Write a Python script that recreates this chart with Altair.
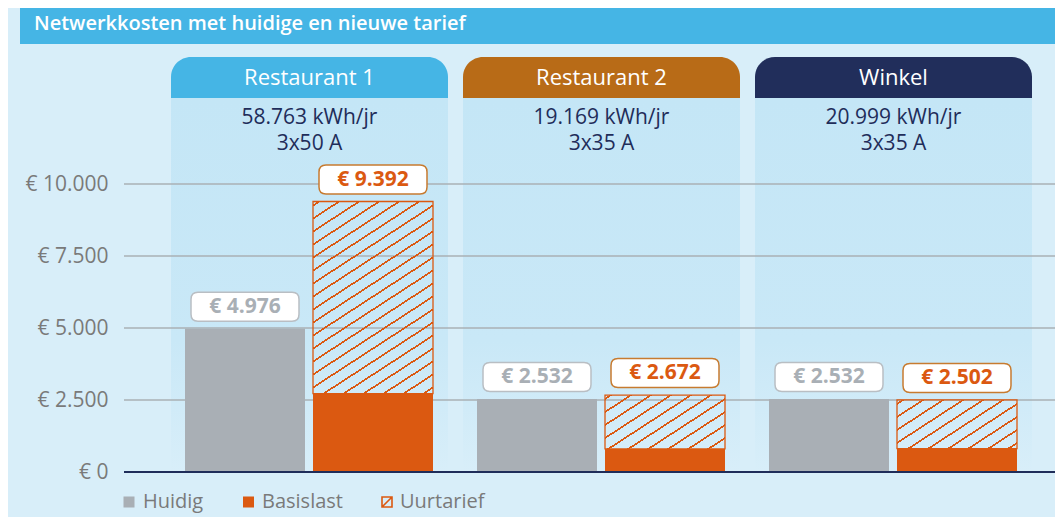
import altair as alt
import pandas as pd

# ---------------- data ----------------
panels = ["Restaurant 1", "Restaurant 2", "Winkel"]
usage = ["58.763 kWh/jr", "19.169 kWh/jr", "20.999 kWh/jr"]
connection = ["3x50 A", "3x35 A", "3x35 A"]
huidig = [4976, 2532, 2532]
basislast = [2720, 800, 810]
nieuw_totaal = [9392, 2672, 2502]
y_ticks = [0, 2500, 5000, 7500, 10000]
legend_labels = ["Huidig", "Basislast", "Uurtarief"]
title_text = ["Netwerkkosten met huidige en nieuwe tarief"]

# ---------------- style / layout ----------------
FONT = "Open Sans"
BG = "#d8eef9"
PANEL_TOP = "#c4e6f6"
TITLE_BLUE = "#45b5e5"
TAB_COLORS = ["#45b5e5", "#b86b17", "#212e5b"]
NAVY = "#1f2d5a"
GRAY = "#a9afb5"
ORANGE = "#db5911"
ORANGE_CLEAR = "rgba(219,89,17,0)"
GRAY_BORDER = "#b9bec3"
ORANGE_BORDER = "#c77b30"
GRID = "#aab0b4"
AXIS_TXT = "#7a7a7a"

W = 931          # plot width
H = 415          # plot height
PX_PER = 0.0288  # pixels per euro
YMAX = H / PX_PER
BAR_W = 120


def euro(v):
    return "€ " + f"{v:,}".replace(",", ".")


def hatch(w, h, m=0.65, spacing=13.0, thick=2.0):
    L = m * w + h
    c = L / (m * m * w * w + h * h)
    stops = [(0.0, ORANGE_CLEAR)]
    half = thick / 2.0 / L
    k = -2
    while True:
        t = (4.0 + k * spacing) / L
        if t - half > 1:
            break
        a, b = max(0.0, t - half), min(1.0, t + half)
        if b > 0 and a < 1:
            stops += [(a, ORANGE_CLEAR), (a, ORANGE), (b, ORANGE), (b, ORANGE_CLEAR)]
        k += 1
    stops.append((1.0, ORANGE_CLEAR))
    return {
        "gradient": "linear",
        "x1": 0, "y1": 0, "x2": c * m * w, "y2": c * h,
        "stops": [{"offset": round(o, 5), "color": col} for o, col in stops],
    }


df_panels = pd.DataFrame({"panel": panels, "usage": usage, "conn": connection})
df_h = pd.DataFrame({"panel": panels, "grp": "Huidig", "value": huidig,
                     "label": [euro(v) for v in huidig]})
df_n = pd.DataFrame({"panel": panels, "grp": "Nieuw", "base": basislast,
                     "total": nieuw_totaal, "label": [euro(v) for v in nieuw_totaal]})
df_ticks = pd.DataFrame({"tick": y_ticks})
df_title = pd.DataFrame({"title": title_text})
df_leg = pd.DataFrame({"label": legend_labels})
df_zero = pd.DataFrame({"z": [0]})

xscale = alt.Scale(domain=panels, paddingInner=15 / 292, paddingOuter=35 / 292,
                   align=47 / 70, round=False)
xoff_scale = alt.Scale(domain=["Huidig", "Nieuw"], paddingInner=8 / 128,
                       paddingOuter=14.5 / 128, align=14 / 29, round=False)
yscale = alt.Scale(domain=[0, YMAX], nice=False, zero=True)
yaxis = alt.Axis(values=y_ticks,
                 labelExpr="'€ ' + replace(format(datum.value, ',.0f'), ',', '.')",
                 grid=False, domain=False, ticks=False, labelPadding=16,
                 labelFontSize=21, labelColor=AXIS_TXT, labelFont=FONT, title=None)

X = alt.X("panel:N", scale=xscale, axis=None)
XO = alt.XOffset("grp:N", scale=xoff_scale)


def Y(field):
    return alt.Y(field, scale=yscale, axis=yaxis, title=None)


layers = []

# title bar
layers.append(alt.Chart(df_title).mark_rect(color=TITLE_BLUE).encode(
    x=alt.value(-104), x2=alt.value(W), y=alt.value(-49), y2=alt.value(-13)))
layers.append(alt.Chart(df_title).mark_text(
    color="white", font=FONT, fontSize=20, fontWeight=600, align="left",
    baseline="middle").encode(x=alt.value(-90), y=alt.value(-33), text="title:N"))

# panel bodies and tabs
body_grad = {"gradient": "linear", "x1": 0, "y1": 0, "x2": 0, "y2": 1,
             "stops": [{"offset": 0, "color": PANEL_TOP},
                       {"offset": 0.65, "color": "#c9e8f7"},
                       {"offset": 1, "color": BG}]}
layers.append(alt.Chart(df_panels).mark_bar(fill=body_grad).encode(
    x=X, y=alt.value(41), y2=alt.value(H)))
layers.append(alt.Chart(df_panels).mark_bar(
    cornerRadiusTopLeft=20, cornerRadiusTopRight=20).encode(
    x=X, y=alt.value(0), y2=alt.value(41),
    color=alt.Color("panel:N", scale=alt.Scale(domain=panels, range=TAB_COLORS),
                    legend=None)))
layers.append(alt.Chart(df_panels).mark_text(
    color="white", font=FONT, fontSize=22, baseline="middle").encode(
    x=X, y=alt.value(21), text="panel:N"))
layers.append(alt.Chart(df_panels).mark_text(
    color=NAVY, font=FONT, fontSize=21, baseline="middle").encode(
    x=X, y=alt.value(61), text="usage:N"))
layers.append(alt.Chart(df_panels).mark_text(
    color=NAVY, font=FONT, fontSize=21, baseline="middle").encode(
    x=X, y=alt.value(87), text="conn:N"))

# gridlines
layers.append(alt.Chart(df_ticks).mark_rule(color=GRID, strokeWidth=1.5).encode(
    y=Y("tick:Q"), x=alt.value(0), x2=alt.value(W)))

# bars
layers.append(alt.Chart(df_h).mark_bar(color=GRAY).encode(
    x=X, xOffset=XO, y=Y("value:Q").stack(None)))
layers.append(alt.Chart(df_n).mark_bar(color=ORANGE).encode(
    x=X, xOffset=XO, y=Y("base:Q").stack(None)))
for p, b, t in zip(panels, basislast, nieuw_totaal):
    grad = hatch(BAR_W, (t - b) * PX_PER)
    layers.append(alt.Chart(df_n).transform_filter(alt.datum.panel == p).mark_bar(
        fill=grad, stroke=ORANGE, strokeWidth=1.3).encode(
        x=X, xOffset=XO, y=Y("total:Q"), y2="base:Q"))

# baseline
layers.append(alt.Chart(df_zero).mark_rule(color=NAVY, strokeWidth=2).encode(
    y=Y("z:Q"), x=alt.value(0), x2=alt.value(W)))

# value labels (rounded boxes)
hw = 54.0
hh = 14.5 / hw
rr = 7.0 / hw
BOX = (f"M{-1+rr},{-hh}L{1-rr},{-hh}Q1,{-hh} 1,{-hh+rr}L1,{hh-rr}Q1,{hh} {1-rr},{hh}"
       f"L{-1+rr},{hh}Q-1,{hh} -1,{hh-rr}L-1,{-hh+rr}Q-1,{-hh} {-1+rr},{-hh}Z")
BOX_SIZE = (2 * hw) ** 2
for df, fld, border, txt in [(df_h, "value:Q", GRAY_BORDER, GRAY),
                             (df_n, "total:Q", ORANGE_BORDER, ORANGE)]:
    layers.append(alt.Chart(df).mark_point(
        shape=BOX, size=BOX_SIZE, filled=True, fill="white", stroke=border,
        strokeWidth=1.5, opacity=1, yOffset=-22).encode(
        x=X, xOffset=XO, y=Y(fld)))
    layers.append(alt.Chart(df).mark_text(
        font=FONT, fontWeight="bold", fontSize=21, color=txt, baseline="middle",
        yOffset=-22).encode(x=X, xOffset=XO, y=Y(fld), text="label:N"))

# legend
LEG_Y = 445
leg = alt.Chart(df_leg)
layers.append(leg.transform_filter(alt.datum.label == "Huidig").mark_square(
    size=121, color=GRAY, opacity=1).encode(x=alt.value(5), y=alt.value(LEG_Y)))
layers.append(leg.transform_filter(alt.datum.label == "Basislast").mark_square(
    size=121, color=ORANGE, opacity=1).encode(x=alt.value(124.5), y=alt.value(LEG_Y)))
layers.append(leg.transform_filter(alt.datum.label == "Uurtarief").mark_point(
    shape="M-1,-1L1,-1L1,1L-1,1Z M-1,1L1,-1", size=100, stroke=ORANGE,
    strokeWidth=1.6, filled=False, opacity=1).encode(
    x=alt.value(263), y=alt.value(LEG_Y)))
for lab, lx in zip(legend_labels, [19, 138, 276]):
    layers.append(leg.transform_filter(alt.datum.label == lab).mark_text(
        font=FONT, fontSize=20, color=AXIS_TXT, align="left", baseline="middle").encode(
        x=alt.value(lx), y=alt.value(LEG_Y), text="label:N"))

chart = alt.layer(*layers).properties(
    width=W, height=H,
    padding={"left": 116, "top": 49, "right": 0, "bottom": 45},
    autosize=alt.AutoSizeParams(type="none"),
    background=BG,
).configure_view(stroke=None)

chart.save("out.html", embed_options={"renderer": "svg", "actions": False})
